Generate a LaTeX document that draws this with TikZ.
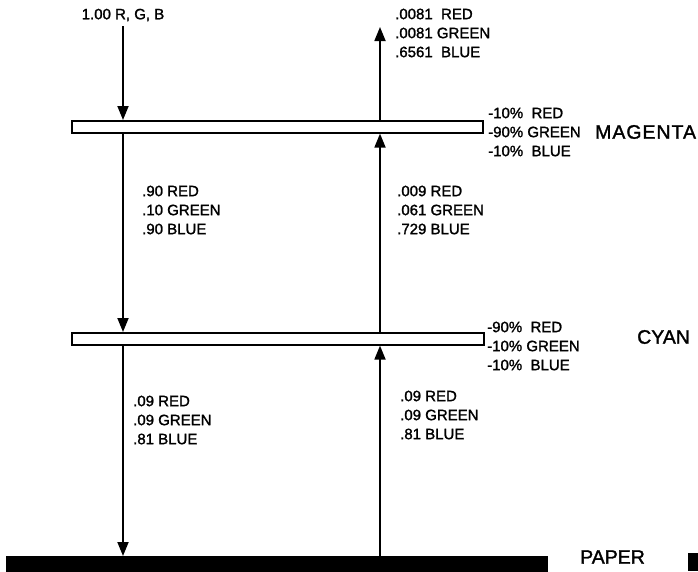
\documentclass[tikz,border=0pt]{standalone}
\usepackage{fontspec}
\setmainfont{Liberation Sans}
\newfontfamily\labelfont{Liberation Sans}[FakeBold=1.5]
\usetikzlibrary{arrows.meta,positioning}
\tikzset{
  filterBar/.style={draw, line width=1.6pt, fill=white, inner sep=0pt, anchor=north west, minimum height=12pt},
  paperBar/.style={fill=black, inner sep=0pt, anchor=north west, minimum height=16pt},
  ray/.style={-{Triangle[length=14pt,width=11pt]}, line width=1.8pt},
  amount/.style={font=\labelfont\fontsize{15pt}{19pt}\selectfont, align=left, anchor=west, inner sep=0pt},
  layerName/.style={font=\labelfont\fontsize{19.5pt}{21pt}\selectfont, anchor=west, inner sep=0pt}
}
\begin{document}
\begin{tikzpicture}[x=1pt, y=-1pt]
  \useasboundingbox (0,0) rectangle (698,571);

  % filter layers
  \node[filterBar, minimum width=411pt] (magenta) at (71,120) {};
  \node[filterBar, minimum width=412pt] (cyan) at (71,332) {};
  \node[paperBar, minimum width=542pt] (paper) at (6,556) {};
  \node[paperBar, minimum width=10pt, minimum height=18pt] (mark) at (688,553) {};

  % incoming and outgoing light
  \node[font=\labelfont\fontsize{15pt}{17pt}\selectfont, inner sep=0pt] (src) at (123,15) {1.00 R, G, B};
  \coordinate (inTop) at (123,26);
  \coordinate (outTop) at (380,27);

  \draw[ray] (inTop) -- (inTop |- magenta.north);
  \draw[ray] (magenta.south -| inTop) -- (inTop |- cyan.north);
  \draw[ray] (cyan.south -| inTop) -- (inTop |- paper.north);

  \draw[ray] (paper.north -| outTop) -- (outTop |- cyan.south);
  \draw[ray] (cyan.north -| outTop) -- (outTop |- magenta.south);
  \draw[ray] (magenta.north -| outTop) -- (outTop);

  % amounts
  \node[amount] (outAmt) at (395,33) {.0081\ \ RED\\.0081 GREEN\\.6561\ \ BLUE};
  \node[amount] (magAmt) at (488,132) {-10\%\ \ RED\\-90\% GREEN\\-10\%\ \ BLUE};
  \node[amount] (downAmtA) at (142,210) {.90 RED\\.10 GREEN\\.90 BLUE};
  \node[amount] (upAmtA) at (397,210) {.009 RED\\.061 GREEN\\.729 BLUE};
  \node[amount] (cyanAmt) at (487,346) {-90\%\ \ RED\\-10\% GREEN\\-10\%\ \ BLUE};
  \node[amount] (downAmtB) at (133,420) {.09 RED\\.09 GREEN\\.81 BLUE};
  \node[amount] (upAmtB) at (400,415) {.09 RED\\.09 GREEN\\.81 BLUE};

  % layer names
  \node[layerName, font=\labelfont\fontsize{19.5pt}{21pt}\selectfont\addfontfeature{LetterSpace=5}] (magName) at (595,132) {MAGENTA};
  \node[layerName] (cyanName) at (637,337) {CYAN};
  \node[layerName] (paperName) at (580,557) {PAPER};
\end{tikzpicture}
\end{document}
